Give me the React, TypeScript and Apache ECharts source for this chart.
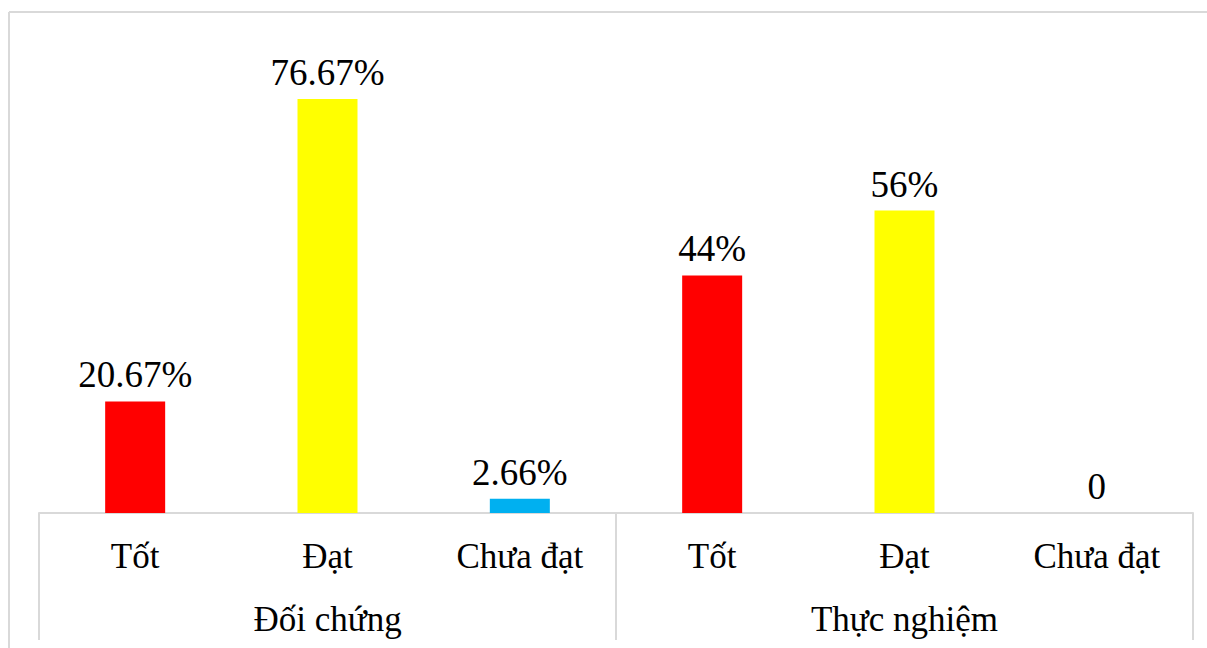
import React, { useEffect, useRef } from "react";
import * as echarts from "echarts";

const categories = ["Tốt", "Đạt", "Chưa đạt", "Tốt", "Đạt", "Chưa đạt"];
const groups = ["Đối chứng", "Thực nghiệm"];
const values = [20.67, 76.67, 2.66, 44, 56, 0];
const barColors = ["#FF0000", "#FFFF00", "#00B0F0", "#FF0000", "#FFFF00", "#00B0F0"];

const FONT = "Liberation Serif";

export default function App() {
  const ref = useRef<HTMLDivElement>(null);
  useEffect(() => {
    const chart = echarts.init(ref.current!, null, { renderer: "svg" });
    chart.setOption({
      animation: false,
      backgroundColor: "#ffffff",
      textStyle: { fontFamily: FONT },
      grid: { left: 39, right: 14, top: 27, bottom: 135, containLabel: false },
      xAxis: [
        {
          type: "category",
          data: categories,
          position: "bottom",
          axisLine: { show: true, lineStyle: { color: "#D9D9D9", width: 2 } },
          axisTick: { show: false },
          axisLabel: { color: "#000", fontFamily: FONT, fontSize: 35, margin: 26, interval: 0 },
        },
        {
          type: "category",
          data: groups,
          position: "bottom",
          offset: 0,
          axisLine: { show: false },
          axisTick: { show: true, length: 127, lineStyle: { color: "#D9D9D9", width: 2 } },
          axisLabel: { color: "#000", fontFamily: FONT, fontSize: 35, margin: 89, interval: 0 },
        },
      ],
      yAxis: {
        type: "value",
        min: 0,
        max: 90,
        show: false,
        splitLine: { show: false },
      },
      graphic: [
        { type: "line", shape: { x1: 9, y1: 12, x2: 1207, y2: 12 }, style: { stroke: "#D9D9D9", lineWidth: 2 } },
        { type: "line", shape: { x1: 9, y1: 12, x2: 9, y2: 648 }, style: { stroke: "#D9D9D9", lineWidth: 2 } },
      ],
      series: [
        {
          type: "bar",
          xAxisIndex: 0,
          barWidth: 60,
          data: values.map((v, i) => ({ value: v, itemStyle: { color: barColors[i] } })),
          label: {
            show: true,
            position: "top",
            distance: 8,
            color: "#000",
            fontFamily: FONT,
            fontSize: 37,
            fontWeight: "normal",
            formatter: (p: any) => (p.value === 0 ? "0" : p.value + "%"),
          },
        },
      ],
    });
    return () => chart.dispose();
  }, []);
  return (
    <div
      ref={ref}
      style={{ position: "absolute", left: 0, top: 0, width: 1207, height: 648 }}
    />
  );
}
